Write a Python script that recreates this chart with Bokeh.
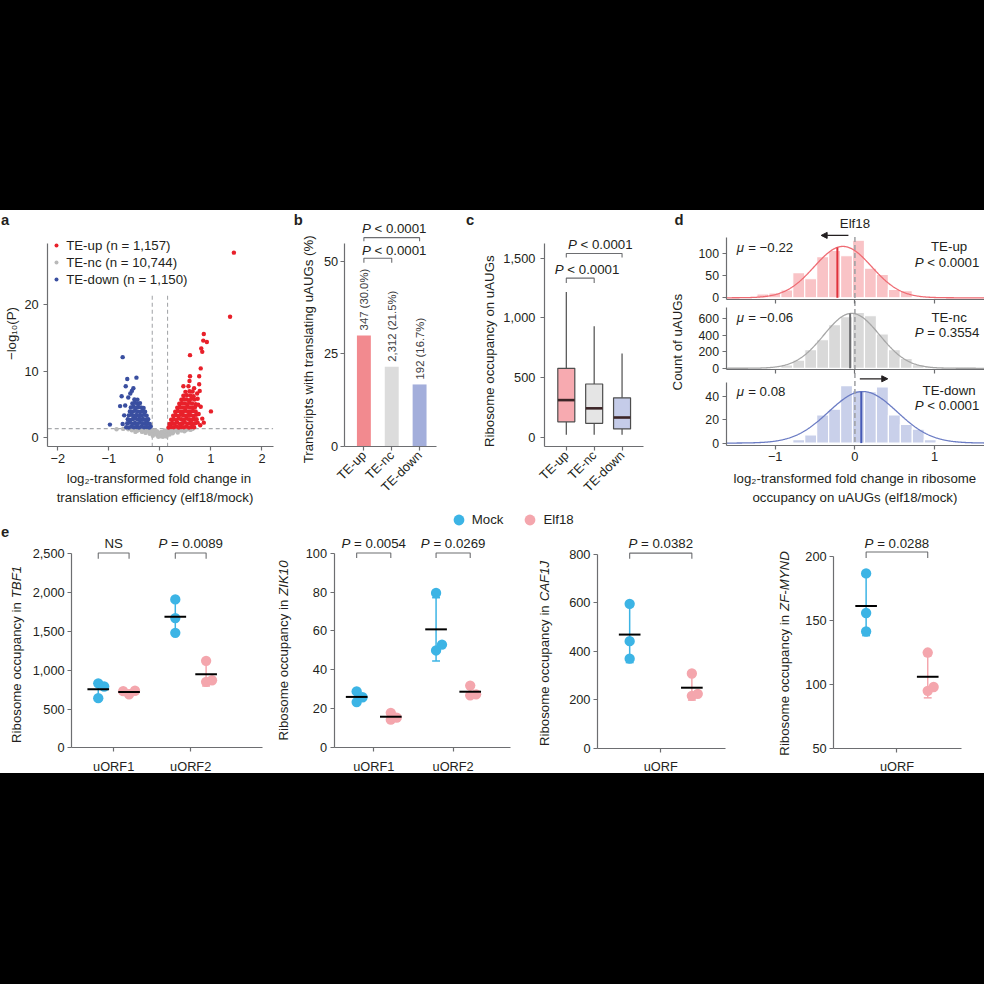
import math
import numpy as np
from bokeh.plotting import figure
from bokeh.layouts import column
from bokeh.models import (Range1d, FixedTicker, NumeralTickFormatter, Label, Arrow,
                          NormalHead, Legend, LegendItem, Spacer, LinearAxis)
from bokeh.embed import file_html
from bokeh.resources import INLINE

S = 0.984           # page pixels per reference pixel
FONT = "Liberation Sans"
TXT = "#231f20"
AXC = "#6d6e71"


def fpx(v):
    return f"{v * S:.2f}px"


FS = fpx(13.5)
TFS = fpx(13)
LFS = fpx(15)

# ---------------- (a) volcano data ----------------
up_x = [0.17, 0.22, 0.27, 0.32, 0.37, 0.42, 0.47, 0.52, 0.57, 0.62, 0.67,
        0.19, 0.24, 0.29, 0.34, 0.39, 0.44, 0.49, 0.54, 0.59, 0.64, 0.69, 0.74,
        0.22, 0.27, 0.32, 0.37, 0.42, 0.47, 0.52, 0.57, 0.62, 0.67, 0.72,
        0.26, 0.31, 0.36, 0.41, 0.46, 0.51, 0.56, 0.61, 0.66, 0.71,
        0.30, 0.35, 0.40, 0.45, 0.50, 0.55, 0.60, 0.65, 0.70,
        0.34, 0.39, 0.44, 0.49, 0.54, 0.59, 0.64, 0.69,
        0.38, 0.43, 0.48, 0.53, 0.58, 0.63, 0.70,
        0.42, 0.47, 0.52, 0.57, 0.62, 0.68,
        0.46, 0.53, 0.60, 0.66,
        0.50, 0.58, 0.64,
        1.45, 1.375, 0.86, 0.85, 0.92, 0.81, 0.59, 0.83, 0.80, 0.77, 0.59, 0.58, 0.46,
        0.56, 1.00, 0.86, 0.78, 0.74, 0.80, 0.76, 0.83, 0.79, 0.73, 0.75, 0.77, 0.67]
up_y = [1.45, 1.55, 1.50, 1.60, 1.45, 1.55, 1.50, 1.60, 1.45, 1.55, 1.50,
        2.00, 2.15, 2.05, 2.20, 2.00, 2.10, 2.20, 2.05, 2.15, 2.00, 2.10, 2.20,
        2.65, 2.75, 2.60, 2.80, 2.70, 2.65, 2.80, 2.70, 2.60, 2.75, 2.70,
        3.25, 3.35, 3.20, 3.40, 3.30, 3.25, 3.35, 3.30, 3.20, 3.40,
        3.85, 3.95, 3.90, 3.80, 4.00, 3.90, 3.85, 3.95, 3.90,
        4.45, 4.55, 4.50, 4.40, 4.60, 4.50, 4.45, 4.55,
        5.05, 5.15, 5.10, 5.00, 5.20, 5.10, 5.00,
        5.65, 5.75, 5.70, 5.60, 5.80, 5.70,
        6.25, 6.35, 6.30, 6.20,
        6.85, 6.95, 6.90,
        27.9, 18.2, 15.6, 14.6, 14.4, 13.4, 12.4, 12.9, 10.4, 9.2, 9.2, 8.5, 7.7,
        7.7, 3.9, 2.2, 7.0, 5.8, 4.6, 3.5, 2.8, 1.8, 6.6, 4.9, 8.0, 7.4]
dn_x = [-0.66, -0.61, -0.56, -0.51, -0.46, -0.41, -0.36, -0.31, -0.26, -0.21, -0.18,
        -0.64, -0.59, -0.54, -0.49, -0.44, -0.39, -0.34, -0.29, -0.24, -0.20,
        -0.63, -0.58, -0.53, -0.48, -0.43, -0.38, -0.33, -0.28, -0.23,
        -0.61, -0.56, -0.51, -0.46, -0.41, -0.36, -0.31, -0.26,
        -0.59, -0.54, -0.49, -0.44, -0.39, -0.34, -0.29,
        -0.57, -0.52, -0.47, -0.42, -0.37, -0.32,
        -0.54, -0.49, -0.44, -0.39,
        -0.50, -0.44,
        -0.73, -0.46, -0.64, -0.67, -0.52, -0.75, -0.58, -0.78, -0.68, -0.98, -0.73,
        -0.62, -0.55, -0.70]
dn_y = [1.50, 1.45, 1.60, 1.50, 1.55, 1.45, 1.60, 1.50, 1.55, 1.45, 1.60,
        2.10, 2.20, 2.05, 2.15, 2.00, 2.20, 2.10, 2.05, 2.15, 2.00,
        2.70, 2.60, 2.75, 2.80, 2.65, 2.70, 2.75, 2.60, 2.70,
        3.30, 3.40, 3.25, 3.35, 3.20, 3.30, 3.40, 3.25,
        3.90, 3.85, 4.00, 3.90, 3.80, 3.95, 3.85,
        4.50, 4.60, 4.45, 4.55, 4.50, 4.40,
        5.10, 5.20, 5.05, 5.15,
        5.70, 5.65,
        12.1, 9.0, 8.8, 7.7, 7.4, 6.2, 6.6, 4.7, 4.8, 1.9, 2.0,
        6.0, 7.0, 3.3]
nc_x = [-0.85, -0.62, -0.55, -0.50, -0.45, -0.42, -0.40, -0.35, -0.32, -0.30,
        -0.28, -0.25, -0.22, -0.20, -0.18, -0.15, -0.14, -0.12, -0.10, -0.08,
        -0.06, -0.05, -0.03, -0.02, 0.00, 0.00, 0.02, 0.03, 0.05, 0.06,
        0.08, 0.09, 0.10, 0.12, 0.13, 0.15, 0.16, 0.18, 0.20, 0.22,
        0.24, 0.27, 0.30, 0.34, 0.38, 0.42, 0.46, 0.50, 0.55, 0.60,
        0.64, -0.72, -0.58, -0.38, 0.32, 0.44, 0.52, 0.58,
        -0.26, -0.16, -0.04, 0.04, 0.11, 0.19, 0.25, 0.35, 0.48, -0.48, -0.36, 0.07]
nc_y = [1.20, 1.20, 1.05, 1.20, 0.95, 1.25, 1.15, 0.80, 1.20, 1.00,
        0.65, 1.20, 0.90, 0.50, 1.20, 0.75, 0.20, 0.40, 1.00, 0.60,
        0.90, 0.25, 0.05, 0.60, 0.45, 0.30, 0.15, 0.80, 0.35, 0.05,
        0.60, 1.00, 0.20, 0.80, 0.10, 0.45, 1.20, 1.00, 0.70, 1.25,
        1.15, 0.85, 1.10, 0.95, 1.20, 1.00, 1.20, 1.05, 1.20, 1.10,
        1.25, 1.25, 1.25, 1.10, 1.25, 1.15, 1.20, 1.25,
        0.95, 0.95, 0.75, 0.55, 0.50, 0.40, 0.60, 0.70, 0.90, 0.80, 1.00, 0.25]
a_legend = ["TE-up (n = 1,157)", "TE-nc (n = 10,744)", "TE-down (n = 1,150)"]
a_xticks = [-2, -1, 0, 1, 2]
a_yticks = [0, 10, 20]
FC_CUT = 0.15
P_CUT = 1.3

# ---------------- (b) bars ----------------
groups = ["TE-up", "TE-nc", "TE-down"]
b_pct = [30.0, 21.5, 16.7]
b_labels = ["347 (30.0%)", "2,312 (21.5%)", "192 (16.7%)"]
b_yticks = [0, 25, 50]

# ---------------- (c) boxes ----------------
c_lo = [21, 21, 21]
c_q1 = [129, 116, 69]
c_med = [311, 242, 165]
c_q3 = [578, 446, 330]
c_hi = [1217, 931, 702]
c_yticks = [0, 500, 1000, 1500]

# ---------------- (d) histograms ----------------
BIN_W = 0.15
bin_centers = [-1.305, -1.155, -1.005, -0.855, -0.705, -0.555, -0.405, -0.255, -0.105,
               0.045, 0.195, 0.345, 0.495, 0.645, 0.795, 0.945, 1.095, 1.245]
hist_up = [0, 9, 11, 18, 57, 43, 93, 107, 95, 130, 67, 53, 19, 16, 0, 0, 0, 0]
hist_nc = [2, 6, 15, 40, 100, 228, 347, 531, 627, 679, 639, 419, 228, 120, 45, 20, 8, 3]
hist_dn = [0, 0, 1, 1, 3, 7, 24, 29, 49, 45, 44, 48, 24, 16, 12, 3, 1, 0]
d_mu = [-0.22, -0.06, 0.08]
fit_center = [-0.15, -0.04, 0.10]
fit_sd = [0.36, 0.35, 0.43]
fit_peak = [116, 668, 44]
d_names = ["TE-up", "TE-nc", "TE-down"]
d_pvals = ["P < 0.0001", "P = 0.3554", "P < 0.0001"]
d_yticks = [[0, 50, 100], [0, 200, 400, 600], [0, 20, 40]]
d_xticks = [-1, 0, 1]

# ---------------- (e) replicate dot plots ----------------
tbf1_mock = [[830, 790, 640], [1910, 1670, 1480]]
tbf1_elf = [[690, 735, 730], [1120, 850, 870]]
zik10_mock = [[29, 23.5, 26], [79.5, 50, 53]]
zik10_elf = [[18, 14.5, 15.5], [32, 27, 27.5]]
caf1j_mock = [[595, 441, 369]]
caf1j_elf = [[308, 216, 224]]
zf_mock = [[187, 156, 141.5]]
zf_elf = [[125, 95, 98]]
tbf1_p = ["NS", "P = 0.0089"]
zik10_p = ["P = 0.0054", "P = 0.0269"]
caf1j_p = ["P = 0.0382"]
zf_p = ["P = 0.0288"]
e_genes = ["TBF1", "ZIK10", "CAF1J", "ZF-MYND"]

MOCK = "#3cb4e5"
ELF = "#f4a6ad"

# Arial / Liberation Sans advance widths (1/1000 em), used to lay out mixed-style text
AW = {' ': 278, '<': 584, '=': 584, '.': 278, ',': 278, '-': 333, '−': 584, 'μ': 576,
      '(': 333, ')': 333, '%': 889, '/': 278}
for ch in "0123456789":
    AW[ch] = 556
AW.update(dict(zip("abcdefghijklmnopqrstuvwxyz",
                   [556, 556, 500, 556, 556, 278, 556, 556, 222, 222, 500, 222, 833,
                    556, 556, 556, 556, 333, 500, 278, 556, 500, 722, 500, 500, 500])))
AW.update(dict(zip("ABCDEFGHIJKLMNOPQRSTUVWXYZ",
                   [667, 667, 722, 722, 667, 611, 778, 722, 278, 500, 667, 556, 833,
                    722, 778, 667, 778, 722, 667, 611, 722, 667, 944, 667, 667, 611])))

# ================= one figure for the white area (reference-pixel frame) =================
fig = figure(width=984, height=563, x_range=Range1d(0, 1000), y_range=Range1d(785, 213),
             x_axis_location=None, y_axis_location=None, output_backend="svg",
             toolbar_location=None, min_border_left=0, min_border_right=0,
             min_border_top=0, min_border_bottom=0)
fig.outline_line_color = None
fig.background_fill_color = "white"
fig.border_fill_color = "white"
fig.xgrid.visible = False
fig.ygrid.visible = False


class Pan:
    """Scales of one panel: data x -> ref px X = x0 + kx*x ; data y -> ref px Y = y0 - ky*y."""

    def __init__(self, key, x0, kx, y0, ky, xname=None):
        self.x0, self.kx, self.y0, self.ky = x0, kx, y0, ky
        self.xn = xname or key + "_x"
        self.yn = key + "_y"
        xr = dict(fig.extra_x_ranges)
        yr = dict(fig.extra_y_ranges)
        if self.xn not in xr:
            xr[self.xn] = Range1d(self.dx(0), self.dx(1000))
        yr[self.yn] = Range1d(self.dy(785), self.dy(213))
        fig.extra_x_ranges = xr
        fig.extra_y_ranges = yr

    def dx(self, X):
        return (X - self.x0) / self.kx

    def dy(self, Y):
        return (self.y0 - Y) / self.ky

    def X(self, x):
        return self.x0 + self.kx * x

    def kw(self):
        return dict(x_range_name=self.xn, y_range_name=self.yn)


def style_axis(ax, label_size=TFS, standoff=3):
    ax.axis_line_color = AXC
    ax.axis_line_width = 1.2
    ax.major_tick_line_color = AXC
    ax.major_tick_line_width = 1.2
    ax.major_tick_out = 4
    ax.major_tick_in = 0
    ax.minor_tick_out = 0
    ax.minor_tick_in = 0
    ax.major_label_text_font = FONT
    ax.major_label_text_font_size = label_size
    ax.major_label_text_color = TXT
    ax.major_label_standoff = standoff


def add_axes(pan, L, R, T, B, xticks, yticks, xover=None, yfmt=None, xorient=None,
             xstand=3, ystand=3, ysize=TFS, show_xlabels=True):
    xb = (min(pan.dx(L), min(xticks)), max(pan.dx(R), max(xticks)))
    yb = (min(pan.dy(B), min(yticks)), max(pan.dy(T), max(yticks)))
    xa = LinearAxis(fixed_location=yb[0], bounds=xb,
                    ticker=FixedTicker(ticks=xticks, minor_ticks=[]), **pan.kw())
    style_axis(xa, standoff=xstand)
    if xover:
        xa.major_label_overrides = xover
    if not show_xlabels:
        xa.major_label_overrides = {t: "" for t in xticks}
    if xorient is not None:
        xa.major_label_orientation = xorient
    fig.add_layout(xa, "below")
    ya = LinearAxis(fixed_location=xb[0], bounds=yb,
                    ticker=FixedTicker(ticks=yticks, minor_ticks=[]), **pan.kw())
    style_axis(ya, label_size=ysize, standoff=ystand)
    if yfmt:
        ya.formatter = NumeralTickFormatter(format=yfmt)
    fig.add_layout(ya, "left")


def tw(s, size_ref):
    return sum(AW.get(ch, 556) for ch in s) / 1000.0 * size_ref


def rich(X, Y, parts, size_ref=13.5, align="left", angle=0.0, color=TXT):
    """Mixed-style text in reference pixels: parts = [(text, font_style), ...]."""
    total = sum(tw(t, size_ref) for t, _ in parts)
    pos = {"left": 0.0, "center": -total / 2.0, "right": -total}[align]
    ux, uy = math.cos(angle), -math.sin(angle)
    for t, st in parts:
        lead = len(t) - len(t.lstrip(" "))
        core = t.strip(" ")
        pos += tw(" " * lead, size_ref)
        if core:
            fig.add_layout(Label(x=X + ux * pos, y=Y + uy * pos, text=core, text_font=FONT,
                                 text_font_size=fpx(size_ref), text_align="left",
                                 text_baseline="middle", angle=angle, text_font_style=st,
                                 text_color=color))
        pos += tw(t[lead:], size_ref)


def txt(X, Y, text, size=FS, align="left", baseline="middle", angle=0.0,
        style="normal", color=TXT):
    fig.add_layout(Label(x=X, y=Y, text=text, text_font=FONT, text_font_size=size,
                         text_align=align, text_baseline=baseline, angle=angle,
                         text_font_style=style, text_color=color))


def ptext(X, Y, s, align="left"):
    """P-value text with italic P."""
    if s.startswith("P"):
        rich(X, Y, [("P", "italic"), (s[1:], "normal")], align=align)
    else:
        txt(X, Y, s, align=align)


def ptxt(pan, x, y, text, size=FS, align="left", baseline="middle", angle=0.0,
         color=TXT, xo=0, yo=0):
    fig.add_layout(Label(x=x, y=y, text=text, text_font=FONT, text_font_size=size,
                         text_align=align, text_baseline=baseline, angle=angle,
                         text_color=color, x_offset=xo, y_offset=yo, **pan.kw()))


def bracket(pan, x0, x1, ytop, ybot):
    fig.line([x0, x0, x1, x1], [ybot, ytop, ytop, ybot], line_color=AXC,
             line_width=1.1, **pan.kw())


# ================= panel a =================
pa = Pan("a", 162, 51.85, 443.3, 6.72)
add_axes(pa, 48, 277, 247, 453, a_xticks, a_yticks, xover={-2: "−2", -1: "−1"}, ystand=5)
ya_lo, ya_hi = pa.dy(453), 21.8
fig.segment(x0=[-FC_CUT, FC_CUT], y0=[ya_lo, ya_lo], x1=[-FC_CUT, FC_CUT], y1=[ya_hi, ya_hi],
            line_dash="4 3", line_color="#a7a9ac", line_width=1.1, **pa.kw())
fig.segment(x0=[pa.dx(48)], y0=[P_CUT], x1=[pa.dx(277)], y1=[P_CUT],
            line_dash="4 3", line_color="#a7a9ac", line_width=1.1, **pa.kw())
r_nc = fig.scatter(nc_x, nc_y, size=4.5 * S, fill_color="#b9b9b9", line_color=None, **pa.kw())
r_up = fig.scatter(up_x, up_y, size=4.5 * S, fill_color="#e8202a", line_color=None, **pa.kw())
r_dn = fig.scatter(dn_x, dn_y, size=4.5 * S, fill_color="#3a4fa0", line_color=None, **pa.kw())
leg_a = Legend(items=[LegendItem(label=a_legend[0], renderers=[r_up]),
                      LegendItem(label=a_legend[1], renderers=[r_nc]),
                      LegendItem(label=a_legend[2], renderers=[r_dn])],
               location=(52 * S, (785 - 290.9) * S))
leg_a.label_text_font = FONT
leg_a.label_text_font_size = FS
leg_a.label_text_color = TXT
leg_a.glyph_width = int(round(10 * S))
leg_a.glyph_height = int(round(14 * S))
leg_a.label_height = int(round(14 * S))
leg_a.label_standoff = 5
leg_a.spacing = 2
leg_a.padding = 0
leg_a.margin = 0
leg_a.border_line_color = None
leg_a.background_fill_alpha = 0
fig.add_layout(leg_a)
txt(0.5, 223, "a", size=LFS, style="bold")
txt(11, 338, "−log₁₀(P)", align="center", angle=math.pi / 2)
txt(161, 485, "log₂-transformed fold change in", align="center")
txt(157, 505, "translation efficiency (elf18/mock)", align="center")

# ================= panel b =================
bx = [1, 2, 3]
pb = Pan("b", 341, 28.3, 452.3, 3.747)
add_axes(pb, 349.3, 442.7, 246.7, 452.3, bx, b_yticks,
         xover={1: groups[0], 2: groups[1], 3: groups[2]}, xorient=math.pi / 4, ystand=2)
fig.vbar(x=bx, top=b_pct, width=0.5, fill_color=["#f28a8f", "#dcdcdc", "#a3aedb"],
         line_color=None, **pb.kw())
for x, v, t in zip(bx, b_pct, b_labels):
    ptxt(pb, x, v, t, size=fpx(11.5), angle=math.pi / 2, color="#414042", yo=5)
bracket(pb, 1, 3, 56.5, 55.5)
bracket(pb, 1, 2, 50.9, 49.7)
ptext(367.3, 231.7, "P < 0.0001")
ptext(367.3, 253.3, "P < 0.0001")
txt(298, 223, "b", size=LFS, style="bold")
txt(313.3, 354, "Transcripts with translating uAUGs (%)", align="center", angle=math.pi / 2)

# ================= panel c =================
pc = Pan("c", 546.67, 28.33, 443.3, 0.1211)
add_axes(pc, 552.7, 653.3, 246.7, 452.3, bx, c_yticks,
         xover={1: groups[0], 2: groups[1], 3: groups[2]}, xorient=math.pi / 4,
         yfmt="0,0", ystand=5)
fig.segment(bx, c_q3, bx, c_hi, line_color="#4d4d4d", line_width=1.2, **pc.kw())
fig.segment(bx, c_lo, bx, c_q1, line_color="#4d4d4d", line_width=1.2, **pc.kw())
fig.vbar(x=bx, bottom=c_q1, top=c_q3, width=0.61,
         fill_color=["#f7aab0", "#e5e5e5", "#c5cce9"], line_color="#4d4d4d",
         line_width=1.2, **pc.kw())
fig.segment([x - 0.3 for x in bx], c_med, [x + 0.3 for x in bx], c_med,
            line_color="#3c2527", line_width=2.6, **pc.kw())
bracket(pc, 1, 3, 1541, 1508)
bracket(pc, 1, 2, 1334, 1293)
ptext(576.7, 247.3, "P < 0.0001")
ptext(563.3, 272.7, "P < 0.0001")
txt(473, 223, "c", size=LFS, style="bold")
txt(496.7, 356, "Ribosome occupancy on uAUGs", align="center", angle=math.pi / 2)

# ================= panel d =================
d_geom = [(301.7, 0.45, 240, 303.3), (373.3, 0.0835, 311.7, 375), (449.3, 1.19, 387.3, 451.7)]
d_cols = [("#f9c3c6", "#ef6b73", "#e0313b"), ("#d9d9d9", "#a6a6a6", "#6d6e71"),
          ("#c9d0ea", "#6b7cc4", "#4559b5")]
d_hists = [hist_up, hist_nc, hist_dn]
d_text_y = [(250.7, 250, 265.7), (321.7, 321.7, 336.7), (396.7, 396, 410.7)]
for i in range(3):
    y0, ky, T, B = d_geom[i]
    pd = Pan(f"d{i + 1}", 868.3, 81, y0, ky, xname="d_x")
    add_axes(pd, 738.3, 1000, T, B, d_xticks, d_yticks[i], xover={-1: "−1"},
             ysize=fpx(12.5), ystand=4, show_xlabels=(i == 2))
    cbar, ccurve, cmu = d_cols[i]
    fig.vbar(x=bin_centers, top=d_hists[i], width=BIN_W, fill_color=cbar,
             line_color="white", line_width=1.2, **pd.kw())
    xs_fit = np.linspace(pd.dx(738.3), pd.dx(1000), 400)
    ys_fit = fit_peak[i] * np.exp(-0.5 * ((xs_fit - fit_center[i]) / fit_sd[i]) ** 2)
    fig.line(xs_fit, ys_fit, line_color=ccurve, line_width=1.3, **pd.kw())
    ymu = fit_peak[i] * math.exp(-0.5 * ((d_mu[i] - fit_center[i]) / fit_sd[i]) ** 2)
    fig.segment([d_mu[i]], [0], [d_mu[i]], [ymu], line_color=cmu, line_width=2, **pd.kw())
    mu_val = ("−" if d_mu[i] < 0 else "") + f"{abs(d_mu[i]):.2f}"
    ty = d_text_y[i]
    rich(748.3, ty[0], [("μ", "italic"), (" = " + mu_val, "normal")])
    txt(964, ty[1], d_names[i], align="center")
    ptext(962, ty[2], d_pvals[i], align="center")

# dashed zero line running through the three stacked histograms
fig.segment(x0=[0], y0=[240], x1=[0], y1=[451.7], x_range_name="d_x",
            line_dash="5 3", line_color="#9d9fa2", line_width=1.5)
txt(685, 223, "d", size=LFS, style="bold")
txt(868.3, 226.7, "Elf18", align="center")
fig.add_layout(Arrow(end=NormalHead(size=6, fill_color=TXT, line_color=TXT),
                     x_start=861.7, y_start=238.3, x_end=834, y_end=238.3,
                     line_color=TXT, line_width=1.2))
fig.add_layout(Arrow(end=NormalHead(size=6, fill_color=TXT, line_color=TXT),
                     x_start=873.3, y_start=384, x_end=901.7, y_end=384,
                     line_color=TXT, line_width=1.2))
txt(688.3, 346.7, "Count of uAUGs", align="center", angle=math.pi / 2)
txt(868.3, 485, "log₂-transformed fold change in ribosome", align="center")
txt(868.3, 505, "occupancy on uAUGs (elf18/mock)", align="center")


# ================= panel e =================
def swarm(vals, pxu_y, d=10.0):
    placed, offs = [], []
    for v in vals:
        y = v * pxu_y
        c = 0.0
        for c in [0.0, 0.6 * d, -0.6 * d, 1.2 * d, -1.2 * d]:
            if all((c - px) ** 2 + (y - py) ** 2 >= (0.6 * d) ** 2 for px, py in placed):
                break
        placed.append((c, y))
        offs.append(c)
    return offs


def epanel(pan, geom, yticks, yfmt, xlabels, mock, elf, dodge, br, ptexts, gene, ytitle_pos):
    L, R, T, B = geom
    gx = list(range(1, len(xlabels) + 1))
    add_axes(pan, L, R, T, B, gx, yticks, xover={g: t for g, t in zip(gx, xlabels)},
             yfmt=yfmt, xstand=7, ystand=3)
    rends = {}
    for vals_list, sign, color, key in [(mock, -1, MOCK, "Mock"), (elf, 1, ELF, "Elf18")]:
        xs, ys, mx, mm, sd = [], [], [], [], []
        for g, vals in zip(gx, vals_list):
            cx = g + sign * dodge
            offs = swarm(vals, pan.ky)
            xs += [cx + o / pan.kx for o in offs]
            ys += list(vals)
            mx.append(cx)
            mm.append(float(np.mean(vals)))
            sd.append(float(np.std(vals, ddof=1)))
        lo = [m - s for m, s in zip(mm, sd)]
        hi = [m + s for m, s in zip(mm, sd)]
        fig.segment(mx, lo, mx, hi, line_color=color, line_width=1.5, **pan.kw())
        fig.scatter(mx + mx, lo + hi, marker="dash", size=8 * S, line_color=color,
                    line_width=1.5, **pan.kw())
        r = fig.scatter(xs, ys, size=10.5 * S, fill_color=color, line_color=None, **pan.kw())
        fig.scatter(mx, mm, marker="dash", size=22 * S, line_color="black", line_width=2,
                    **pan.kw())
        rends[key] = r
    for g, t in zip(gx, ptexts):
        bracket(pan, g - dodge, g + dodge, br[0], br[1])
        ptext(pan.X(g), 551.5, t, align="center")
    rich(ytitle_pos[0], ytitle_pos[1], [("Ribosome occupancy in ", "normal"), (gene, "italic")],
         align="center", angle=math.pi / 2)
    return rends


pe1 = Pan("e1", 36.7, 78.3, 759, 0.079)
epanel(pe1, (72.3, 266.7, 561.7, 759), [0, 500, 1000, 1500, 2000, 2500], "0,0",
       ["uORF1", "uORF2"], tbf1_mock, tbf1_elf, 0.2, (2506, 2434), tbf1_p,
       e_genes[0], (16, 664))
pe2 = Pan("e2", 298.6, 80.7, 759, 1.98)
rend2 = epanel(pe2, (339, 518.3, 561, 759), [0, 20, 40, 60, 80, 100], "0,0",
               ["uORF1", "uORF2"], zik10_mock, zik10_elf, 0.215, (100, 97.5), zik10_p,
               e_genes[1], (287.3, 660))
pe3 = Pan("e3", 513, 158, 759.3, 0.2465)
epanel(pe3, (606.7, 736.7, 562.3, 759.3), [0, 200, 400, 600, 800], "0,0",
       ["uORF"], caf1j_mock, caf1j_elf, 0.2, (804, 781), caf1j_p,
       e_genes[2], (553.3, 663))
pe4 = Pan("e4", 754.5, 156.5, 824.1, 1.296)
epanel(pe4, (846.7, 976.7, 565, 759.3), [50, 100, 150, 200], "0,0",
       ["uORF"], zf_mock, zf_elf, 0.2, (203.8, 199.2), zf_p,
       e_genes[3], (796.7, 663))
txt(0.5, 540, "e", size=LFS, style="bold")

leg_e = Legend(items=[LegendItem(label="Mock", renderers=[rend2["Mock"]]),
                      LegendItem(label="Elf18", renderers=[rend2["Elf18"]])],
               location=(452 * S, (785 - 540.7) * S), orientation="horizontal")
leg_e.label_text_font = FONT
leg_e.label_text_font_size = FS
leg_e.label_text_color = TXT
leg_e.glyph_width = 27
leg_e.glyph_height = 27
leg_e.label_height = 27
leg_e.label_standoff = 0
leg_e.spacing = 13
leg_e.padding = 0
leg_e.margin = 0
leg_e.border_line_color = None
leg_e.background_fill_alpha = 0
fig.add_layout(leg_e)

# ================= page =================
top_band = Spacer(width=984, height=210, styles={"background-color": "black"})
bot_band = Spacer(width=984, height=211, styles={"background-color": "black"})
page = column(top_band, fig, bot_band)

open("out.html", "w").write(file_html(page, INLINE, title="Elf18 translation figure"))
